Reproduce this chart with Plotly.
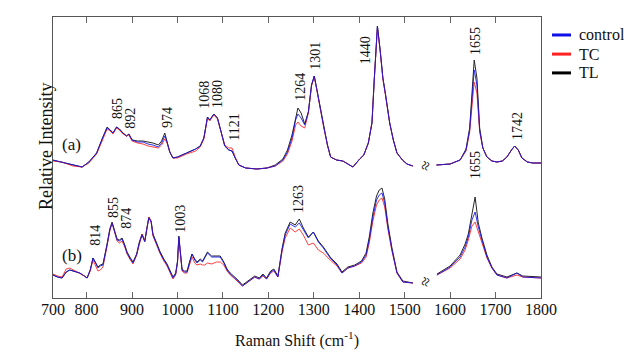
import plotly.graph_objects as go

# ---------------- data (wavenumber in cm-1, relative intensity, arbitrary units) ----------------
GAP = None
wn_a = [725, 745, 770, 790, 805, 822, 835, 845, 852, 858, 866, 872, 880, 888, 893, 900, 912, 924, 935, 946,
        958, 965, 972, 977, 983, 990, 1000, 1020, 1040, 1050, 1058, 1066, 1071, 1080, 1088, 1096, 1104, 1113,
        1120, 1127, 1135, 1150, 1175, 1197, 1215, 1232, 1242, 1252, 1260, 1265, 1272, 1280, 1288, 1295, 1301,
        1307, 1315, 1322, 1330, 1337, 1350, 1364, 1375, 1386, 1401, 1410, 1420, 1428, 1433, 1440, 1446, 1452,
        1458, 1467, 1475, 1483, 1495, 1505, 1518, 1544, 1570, 1600, 1622, 1635, 1643, 1648, 1653, 1659, 1665,
        1672, 1681, 1692, 1703, 1715, 1725, 1735, 1742, 1750, 1758, 1770, 1782, 1800]

control_a = [138, 136, 133, 131, 136, 145, 160, 170, 168, 165, 171, 169, 165, 162, 164, 158, 156, 156, 154, 153,
             151, 155, 162, 156, 146, 140, 141, 145, 149, 152, 160, 181, 178, 184, 180, 166, 152, 148,
             147, 140, 133, 130, 129, 130, 132, 138, 146, 160, 178, 184, 180, 173, 186, 213, 222,
             208, 186, 171, 153, 141, 138, 137, 134, 131, 139, 143, 155, 175, 218, 272, 248, 220,
             203, 175, 158, 145, 138, 134, 132, GAP, 133, 134, 138, 148, 168, 198, 228, 213, 168,
             150, 141, 137, 136, 137, 141, 148, 152, 148, 140, 136, 135, 135]

tc_a = [137, 136, 132, 131, 135, 144, 158, 169, 167, 164, 170, 168, 164, 162, 163, 157, 155, 154, 152, 151,
        150, 153, 159, 155, 146, 140, 140, 144, 147, 151, 159, 180, 177, 183, 179, 166, 153, 150,
        150, 141, 133, 130, 129, 130, 132, 137, 144, 157, 173, 176, 172, 170, 185, 212, 221,
        207, 185, 170, 153, 141, 138, 137, 134, 131, 139, 143, 155, 176, 218, 270, 247, 219,
        202, 175, 158, 145, 138, 134, 132, GAP, 133, 134, 138, 147, 166, 190, 216, 205, 166,
        150, 141, 137, 136, 137, 141, 148, 152, 148, 140, 136, 135, 135]

tl_a = [138, 136, 133, 131, 136, 145, 160, 171, 168, 165, 171, 169, 165, 162, 164, 158, 157, 157, 156, 155,
        153, 157, 165, 157, 146, 140, 141, 145, 149, 152, 160, 181, 178, 184, 180, 166, 152, 148,
        147, 140, 133, 130, 129, 130, 133, 139, 148, 163, 182, 190, 185, 174, 186, 213, 222,
        208, 186, 171, 153, 141, 138, 137, 134, 131, 139, 143, 155, 175, 218, 272, 248, 220,
        203, 175, 158, 145, 138, 134, 132, GAP, 133, 134, 138, 149, 170, 203, 238, 220, 170,
        150, 141, 137, 136, 137, 141, 148, 152, 148, 140, 136, 135, 135]

wn_b = [726, 736, 746, 755, 763, 775, 785, 795, 801, 808, 814, 820, 825, 830, 836, 845, 851, 856, 862, 867,
        872, 878, 884, 889, 895, 902, 910, 916, 922, 928, 933, 937, 942, 946, 955, 961, 970, 977, 984, 990,
        996, 1000, 1003, 1006, 1010, 1015, 1021, 1027, 1032, 1038, 1043, 1050, 1055, 1060, 1066, 1075, 1086,
        1094, 1102, 1109, 1116, 1124, 1133, 1143, 1152, 1160, 1170, 1180, 1188, 1196, 1205, 1212, 1221, 1230,
        1237, 1248, 1259, 1268, 1277, 1288, 1299, 1310, 1321, 1336, 1351, 1362, 1375, 1390, 1405, 1415, 1422,
        1430, 1438, 1444, 1450, 1456, 1463, 1472, 1483, 1496, 1518, 1544, 1571, 1600, 1622, 1633, 1640, 1648,
        1655, 1662, 1670, 1681, 1692, 1703, 1725, 1747, 1760, 1800]

control_b = [23, 21, 20, 26, 28, 26, 25, 22, 20, 28, 40, 35, 30, 32, 33, 53, 68, 75, 66, 58,
             57, 59, 52, 45, 40, 35, 43, 55, 63, 56, 70, 80, 76, 63, 53, 46, 38, 33, 26, 20,
             24, 36, 61, 43, 28, 26, 26, 36, 44, 38, 35, 38, 36, 40, 45, 41, 41,
             41, 35, 28, 24, 21, 17, 12, 15, 18, 21, 19, 23, 19, 26, 28, 21, 48,
             63, 74, 71, 75, 68, 60, 66, 56, 50, 40, 33, 25, 30, 32, 36, 43, 58,
             81, 98, 103, 105, 95, 71, 48, 25, 16, 15, GAP, 23, 31, 41, 51, 61, 78,
             86, 71, 58, 41, 30, 23, 20, 25, 21, 20]

tc_b = [24, 22, 21, 29, 30, 27, 25, 22, 20, 27, 38, 32, 27, 28, 31, 52, 67, 75, 65, 57,
        55, 57, 51, 44, 39, 34, 43, 55, 64, 57, 70, 81, 76, 62, 52, 45, 37, 32, 25, 19,
        23, 35, 60, 42, 27, 25, 25, 34, 41, 35, 33, 34, 33, 33, 35, 34, 36,
        36, 33, 27, 23, 20, 16, 12, 15, 18, 21, 19, 22, 19, 25, 27, 21, 46,
        60, 70, 66, 69, 63, 53, 55, 48, 45, 38, 32, 25, 30, 32, 35, 41, 55,
        77, 93, 98, 100, 91, 69, 47, 25, 16, 15, GAP, 23, 30, 39, 48, 58, 72,
        76, 66, 56, 40, 30, 23, 20, 23, 21, 20]

tl_b = [23, 21, 20, 26, 28, 26, 25, 22, 20, 28, 40, 35, 31, 33, 34, 54, 69, 76, 67, 59,
        58, 60, 53, 46, 41, 36, 44, 56, 64, 57, 71, 81, 77, 64, 54, 47, 39, 34, 27, 21,
        25, 37, 62, 44, 29, 27, 27, 37, 44, 39, 36, 39, 37, 41, 46, 42, 42,
        42, 36, 29, 25, 22, 18, 13, 16, 19, 22, 20, 24, 20, 27, 29, 22, 49,
        65, 76, 73, 79, 70, 61, 66, 57, 51, 41, 34, 26, 31, 33, 37, 45, 61,
        85, 102, 108, 110, 99, 74, 50, 26, 17, 15, GAP, 24, 32, 43, 54, 64, 85,
        101, 75, 60, 43, 31, 24, 21, 25, 22, 21]

series_names = ["control", "TC", "TL"]
series_colors = ["#1010e8", "#ff2020", "#000000"]

tick_vals = [726, 800, 900, 1000, 1100, 1200, 1300, 1400, 1500, 1600, 1700, 1800]
tick_text = ["700", "800", "900", "1000", "1100", "1200", "1300", "1400", "1500", "1600", "1700", "1800"]

peak_labels = [("865", 867, 189), ("892", 895, 180), ("974", 977, 180), ("1068", 1058, 203),
               ("1080", 1087, 204), ("1121", 1124, 171), ("1264", 1269, 211), ("1301", 1302, 242),
               ("1440", 1413, 248), ("1655", 1655, 257), ("1742", 1747, 172),
               ("814", 818, 63), ("855", 858, 91), ("874", 886, 80), ("1003", 1005, 79),
               ("1263", 1265, 99), ("1655", 1655, 133)]
panel_labels = [("(a)", 766, 154), ("(b)", 768, 43)]
break_marks = [(1545, 132), (1545, 16)]

FONT = "Liberation Serif"

fig = go.Figure()

ys_a = {"control": control_a, "TC": tc_a, "TL": tl_a}
ys_b = {"control": control_b, "TC": tc_b, "TL": tl_b}
cmap = dict(zip(series_names, series_colors))
for name in ["TL", "TC", "control"]:
    fig.add_trace(go.Scatter(x=wn_a, y=ys_a[name], mode="lines", line=dict(color=cmap[name], width=1),
                             opacity=0.85, showlegend=False, connectgaps=False, hoverinfo="skip"))
    fig.add_trace(go.Scatter(x=wn_b, y=ys_b[name], mode="lines", line=dict(color=cmap[name], width=1),
                             opacity=0.85, showlegend=False, connectgaps=False, hoverinfo="skip"))

annotations = []
shapes = []
# legend drawn manually (thick short lines + labels)
leg_y = [0.936, 0.868, 0.801]
for name, ly in zip(series_names, leg_y):
    shapes.append(dict(type="line", xref="paper", yref="paper", x0=1.0225, x1=1.0615, y0=ly, y1=ly,
                       line=dict(color=cmap[name], width=3)))
    annotations.append(dict(x=1.0738, y=ly, xref="paper", yref="paper", text=name, showarrow=False,
                            xanchor="left", yanchor="middle", font=dict(family=FONT, size=16, color="#111")))

for txt, x, y in peak_labels:
    annotations.append(dict(x=x, y=y, xref="x", yref="y", text=txt, showarrow=False, textangle=-90,
                            font=dict(family=FONT, size=14, color="#111")))
for txt, x, y in panel_labels:
    annotations.append(dict(x=x, y=y, xref="x", yref="y", text=txt, showarrow=False,
                            font=dict(family=FONT, size=17, color="#111")))
for x, y in break_marks:
    annotations.append(dict(x=x, y=y, xref="x", yref="y", text="≈", showarrow=False, textangle=-70,
                            font=dict(family=FONT, size=17, color="#111")))
annotations.append(dict(x=-0.039, y=0.541, xref="paper", yref="paper", text="Relative Intensity",
                        showarrow=False, textangle=-90, font=dict(family=FONT, size=18, color="#111")))
annotations.append(dict(x=0.5, y=-0.149, xref="paper", yref="paper", text="Raman Shift (cm<sup>-1</sup>)",
                        showarrow=False, yanchor="middle", font=dict(family=FONT, size=16, color="#111")))

fig.update_layout(
    width=624, height=353,
    margin=dict(l=53, r=83, t=17, b=55, autoexpand=False),
    paper_bgcolor="white", plot_bgcolor="white",
    font=dict(family=FONT, color="#111"),
    xaxis=dict(range=[726, 1800], tickvals=tick_vals, ticktext=tick_text, showgrid=False, zeroline=False,
               showline=True, linecolor="#555", linewidth=1, mirror="ticks", ticks="inside", ticklen=6,
               tickcolor="#666", ticklabelstandoff=-3,
               tickfont=dict(family=FONT, size=16, color="#111")),
    yaxis=dict(range=[0, 281], showgrid=False, zeroline=False, showticklabels=False, ticks="",
               showline=True, linecolor="#555", linewidth=1, mirror=True),
    annotations=annotations,
    shapes=shapes,
    showlegend=False,
)

fig.write_html("out.html")
